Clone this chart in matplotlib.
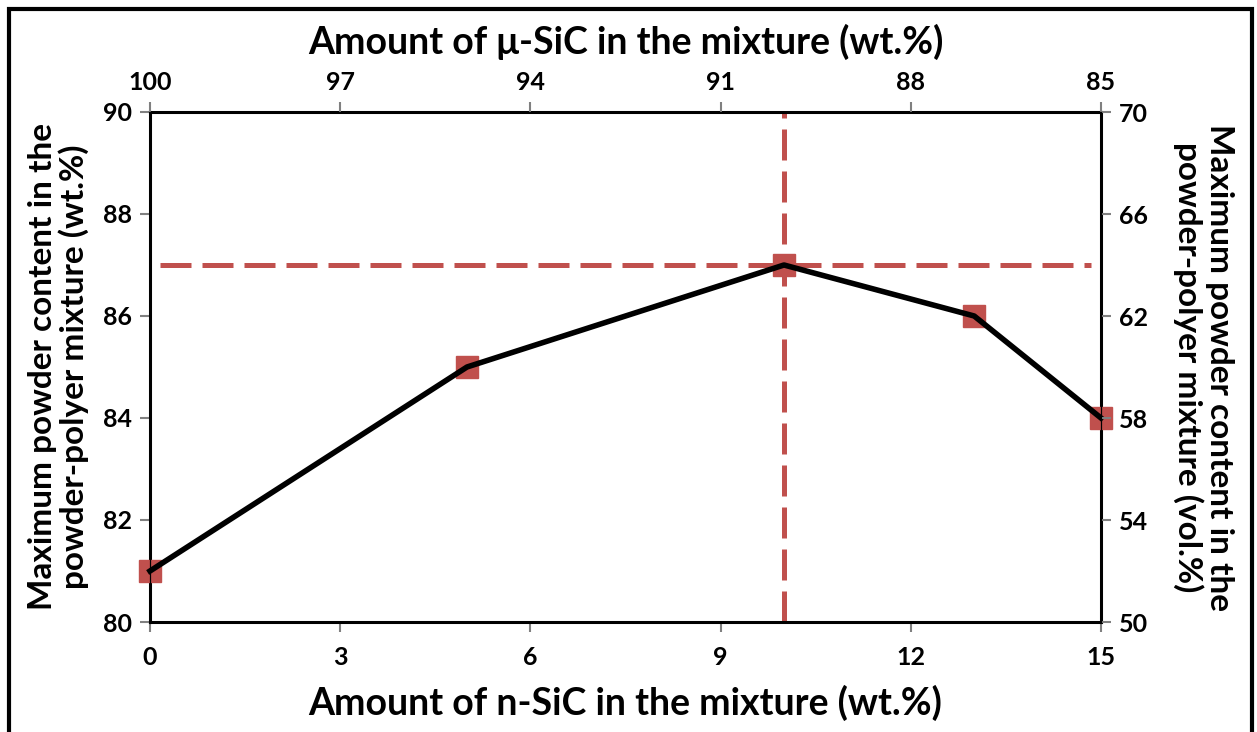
import numpy as np
import matplotlib.pyplot as plt
from matplotlib.patches import Rectangle

plt.rcParams['font.family'] = ['Lato', 'DejaVu Sans']
plt.rcParams['font.weight'] = 'bold'

# ---------------- data ----------------
nsic = [0, 5, 10, 13, 15]          # n-SiC in mixture (wt.%)
powder_wt = [81, 85, 87, 86, 84]   # max powder content (wt.%)
top_ticks = [100, 97, 94, 91, 88, 85]
opt_x = 10
opt_y = 87

red = '#C0504D'
grey = '#808080'

fig = plt.figure(figsize=(12.57, 7.32), dpi=100)
ax = fig.add_axes([150/1257, 1-622/732, 951/1257, 510/732])

# optimum guide lines
ax.plot([0.15, 14.85], [opt_y, opt_y], color=red, lw=3.6, dashes=(6.2, 2.2), zorder=2)
ax.plot([opt_x, opt_x], [80, 90], color=red, lw=3.6, dashes=(6.2, 2.2), zorder=2)

ax.plot(nsic, powder_wt, color=red, marker='s', ms=16, lw=0, zorder=3, clip_on=False)
ax.plot(nsic, powder_wt, color='black', lw=4, zorder=4, clip_on=False)

ax.set_xlim(0, 15)
ax.set_ylim(80, 90)
ax.set_xticks(np.arange(0, 16, 3))
ax.set_yticks(np.arange(80, 91, 2))
ax.tick_params(axis='both', labelsize=18, color=grey, width=1.5, length=7,
               pad=6, direction='out')
ax.tick_params(axis='x', pad=10)
for s in ax.spines.values():
    s.set_linewidth(2.2)
ax.set_xlabel('Amount of n-SiC in the mixture (wt.%)', fontsize=27,
              fontweight='bold', labelpad=12)
ax.set_ylabel('Maximum powder content in the\npowder-polyer mixture (wt.%)',
              fontsize=24, fontweight='bold', labelpad=10, linespacing=1.05)

# top axis: micro-SiC share
top = ax.twiny()
top.set_xlim(0, 15)
top.set_xticks(np.arange(0, 16, 3))
top.set_xticklabels([str(t) for t in top_ticks])
top.tick_params(axis='x', labelsize=18, color=grey, width=1.5, length=7, pad=6)
top.set_xlabel('Amount of \u03bc-SiC in the mixture (wt.%)', fontsize=27,
               fontweight='bold', labelpad=12)

# right axis: vol.%
right = ax.twinx()
right.set_ylim(50, 70)
right.set_yticks(np.arange(50, 71, 4))
right.tick_params(axis='y', labelsize=18, color=grey, width=1.5, length=7, pad=6)
right.set_ylabel('Maximum powder content in the\npowder-polyer mixture (vol.%)',
                 fontsize=24, fontweight='bold', rotation=270, labelpad=62,
                 linespacing=1.05)

fig.patches.append(Rectangle((9/1257, -0.02), 1243/1257, 1.02 - 9/732,
                             transform=fig.transFigure, fill=False,
                             edgecolor='black', lw=3))

fig.savefig('out.png', dpi=100)
